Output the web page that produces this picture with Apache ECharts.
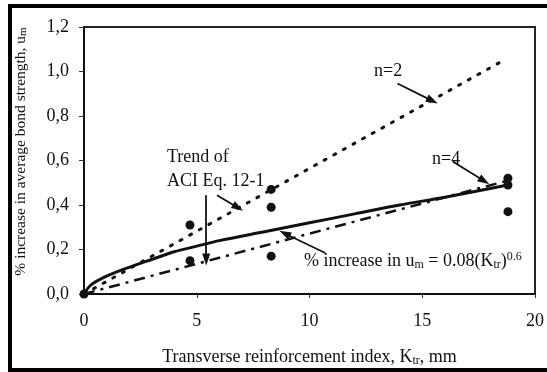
<!DOCTYPE html>
<html>
<head>
<meta charset="utf-8">
<script src="https://cdn.jsdelivr.net/npm/echarts@6/dist/echarts.min.js"></script>
<style>
  html, body { margin: 0; padding: 0; background: #fff; }
  #chart { width: 547px; height: 372px; }
</style>
</head>
<body>
<div id="chart"></div>
<script>
// Measured test results: bond strength gain vs transverse reinforcement index
const testKtr      = [0, 4.7, 4.7, 8.3, 8.3, 8.3, 18.8, 18.8, 18.8];
const testIncrease = [0, 0.31, 0.15, 0.47, 0.39, 0.17, 0.52, 0.49, 0.37];

// Fitted curve: % increase in u_m = 0.08 (K_tr)^0.6
const fitKtr      = [0, 0.3, 1, 2, 3, 4, 5, 6, 8, 10, 12, 14, 16, 18.8];
const fitIncrease = [0, 0.04, 0.08, 0.12, 0.155, 0.19, 0.215, 0.24, 0.28, 0.32, 0.36, 0.40, 0.435, 0.49];

// ACI Eq. 12-1 trends
const n2Ktr = [0, 18.6];
const n2Increase = [0, 1.05];
const n4Ktr = [0, 18.8];
const n4Increase = [0, 0.51];

// Axis ticks
const xTicks = [0, 5, 10, 15, 20];
const yTicks = [0, 0.2, 0.4, 0.6, 0.8, 1.0, 1.2];

// Leader arrows [from, to] in data units
const arrows = [
  [[13.9, 0.946], [15.45, 0.868]],
  [[16.35, 0.596], [17.75, 0.508]],
  [[5.42, 0.444], [5.42, 0.155]],
  [[5.9, 0.444], [6.83, 0.388]],
  [[10.7, 0.184], [8.9, 0.272]]
];

const serif = '"Liberation Serif", "Times New Roman", serif';
const ink = '#111';
const zip = (a, b) => a.map((v, i) => [v, b[i]]);

const chart = echarts.init(document.getElementById('chart'));

chart.setOption({
  backgroundColor: '#fff',
  animation: false,
  textStyle: { fontFamily: serif, color: ink },
  grid: {
    left: 84, right: 9, top: 27, bottom: 76,
    show: true, borderColor: '#222', borderWidth: 2, backgroundColor: 'transparent'
  },
  xAxis: {
    type: 'value', min: xTicks[0], max: xTicks[xTicks.length - 1], interval: 5,
    axisLine: { lineStyle: { color: ink, width: 2 } },
    axisTick: { show: true, length: 4, lineStyle: { color: '#333', width: 1 } },
    splitLine: { show: false },
    axisLabel: { fontFamily: serif, fontSize: 18, color: ink, margin: 18 },
    name: '{t|Transverse reinforcement index, K}{s|tr}{t|, mm}',
    nameLocation: 'middle', nameGap: 53,
    nameTextStyle: {
      rich: {
        t: { fontFamily: serif, fontSize: 18, color: ink, lineHeight: 20 },
        s: { fontFamily: serif, fontSize: 12, color: ink, lineHeight: 12, padding: [8, 0, 0, 0], verticalAlign: 'bottom' }
      }
    }
  },
  yAxis: {
    type: 'value', min: yTicks[0], max: yTicks[yTicks.length - 1], interval: 0.2,
    axisLine: { lineStyle: { color: ink, width: 2 } },
    axisTick: { show: true, length: 5, lineStyle: { color: '#333', width: 1 } },
    splitLine: { show: false },
    axisLabel: {
      fontFamily: serif, fontSize: 18, color: ink, margin: 15,
      formatter: v => v.toFixed(1).replace('.', ',')
    },
    name: '{t|% increase in average bond strength, u}{s|m}',
    nameLocation: 'middle', nameGap: 55, nameRotate: 90,
    nameTextStyle: {
      padding: [0, 0, 0, 18],
      rich: {
        t: { fontFamily: serif, fontSize: 15.5, color: ink, lineHeight: 17 },
        s: { fontFamily: serif, fontSize: 11, color: ink, lineHeight: 11, padding: [7, 0, 0, 0], verticalAlign: 'bottom' }
      }
    }
  },
  series: [
    {
      name: 'n=2', type: 'line', data: zip(n2Ktr, n2Increase),
      symbol: 'none', z: 3,
      lineStyle: { color: ink, width: 3, type: [2, 9], cap: 'round' }
    },
    {
      name: 'n=4', type: 'line', data: zip(n4Ktr, n4Increase),
      symbol: 'none', z: 3,
      lineStyle: { color: ink, width: 2.5, type: [11, 6, 3, 6] }
    },
    {
      name: 'fit', type: 'line', data: zip(fitKtr, fitIncrease),
      symbol: 'none', smooth: 0.3, z: 4,
      lineStyle: { color: ink, width: 3 }
    },
    {
      name: 'tests', type: 'scatter', data: zip(testKtr, testIncrease),
      symbol: 'circle', symbolSize: 9, z: 5,
      itemStyle: { color: ink, opacity: 1 }
    },
    {
      name: 'leaders', type: 'line', data: [],
      markLine: {
        silent: true, symbol: ['none', 'triangle'], symbolSize: [8, 12],
        label: { show: false },
        lineStyle: { color: ink, width: 1.8, type: 'solid', opacity: 1 },
        data: arrows.map(a => [{ coord: a[0] }, { coord: a[1] }])
      }
    }
  ],
  graphic: [
    { type: 'text', left: 374, top: 62, style: { text: 'n=2', font: '18px ' + serif, fill: ink } },
    { type: 'text', left: 432, top: 150, style: { text: 'n=4', font: '18px ' + serif, fill: ink } },
    { type: 'text', left: 167, top: 148, style: { text: 'Trend of', font: '18px ' + serif, fill: ink } },
    { type: 'text', left: 167, top: 172, style: { text: 'ACI Eq. 12-1', font: '18px ' + serif, fill: ink } },
    {
      type: 'text', left: 304, top: 251,
      style: {
        text: '{t|% increase in u}{s|m}{t| = 0.08(K}{s|tr}{t|)}{p|0.6}',
        rich: {
          t: { font: '18px ' + serif, fill: ink, lineHeight: 20 },
          s: { font: '12px ' + serif, fill: ink, lineHeight: 12, padding: [8, 0, 0, 0], verticalAlign: 'bottom' },
          p: { font: '12px ' + serif, fill: ink, lineHeight: 12, padding: [0, 0, 8, 0], verticalAlign: 'top' }
        }
      }
    },
    // page frame
    { type: 'rect', shape: { x: 8, y: 4, width: 4, height: 368 }, style: { fill: '#000' } },
    { type: 'rect', shape: { x: 8, y: 4, width: 539, height: 4 }, style: { fill: '#000' } },
    { type: 'rect', shape: { x: 8, y: 368, width: 539, height: 4 }, style: { fill: '#000' } }
  ]
});
</script>
</body>
</html>
